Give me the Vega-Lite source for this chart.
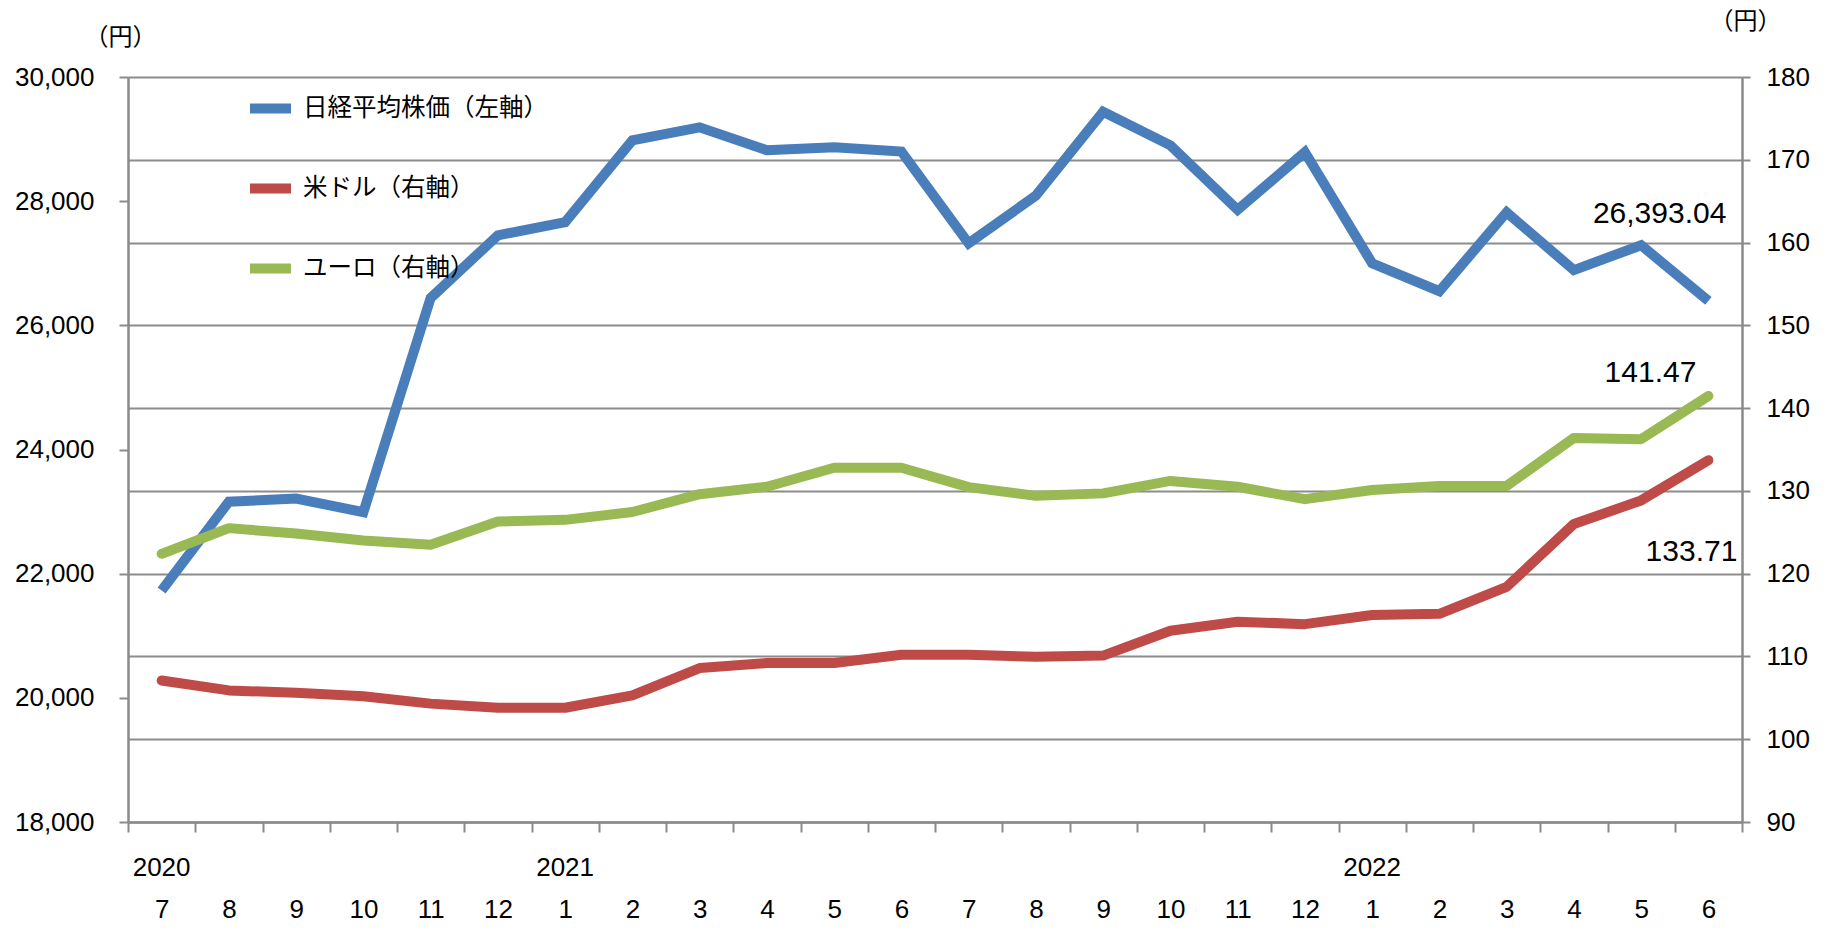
{
  "$schema": "https://vega.github.io/schema/vega-lite/v6.json",
  "width": 1614,
  "height": 745,
  "autosize": {"type": "none"},
  "padding": {"left": 128, "top": 77, "right": 89, "bottom": 108},
  "background": "white",
  "config": {
    "view": {"stroke": null},
    "axis": {
      "domainColor": "#8a8a8a",
      "domainWidth": 2.5,
      "tickColor": "#8a8a8a",
      "tickWidth": 2,
      "labelColor": "#000000",
      "labelFont": "Liberation Sans",
      "labelFontSize": 26,
      "titleColor": "#000000",
      "titleFont": "Noto Sans CJK JP",
      "titleFontSize": 24,
      "titleFontWeight": "normal"
    }
  },
  "data": {
    "values": [
      {"m": "2020/7", "s": "日経平均株価（左軸）", "v": 21730},
      {"m": "2020/8", "s": "日経平均株価（左軸）", "v": 23160},
      {"m": "2020/9", "s": "日経平均株価（左軸）", "v": 23210},
      {"m": "2020/10", "s": "日経平均株価（左軸）", "v": 22990},
      {"m": "2020/11", "s": "日経平均株価（左軸）", "v": 26440},
      {"m": "2020/12", "s": "日経平均株価（左軸）", "v": 27450},
      {"m": "2021/1", "s": "日経平均株価（左軸）", "v": 27660},
      {"m": "2021/2", "s": "日経平均株価（左軸）", "v": 28980},
      {"m": "2021/3", "s": "日経平均株価（左軸）", "v": 29190},
      {"m": "2021/4", "s": "日経平均株価（左軸）", "v": 28820},
      {"m": "2021/5", "s": "日経平均株価（左軸）", "v": 28870},
      {"m": "2021/6", "s": "日経平均株価（左軸）", "v": 28800},
      {"m": "2021/7", "s": "日経平均株価（左軸）", "v": 27320},
      {"m": "2021/8", "s": "日経平均株価（左軸）", "v": 28090},
      {"m": "2021/9", "s": "日経平均株価（左軸）", "v": 29440},
      {"m": "2021/10", "s": "日経平均株価（左軸）", "v": 28900},
      {"m": "2021/11", "s": "日経平均株価（左軸）", "v": 27860},
      {"m": "2021/12", "s": "日経平均株価（左軸）", "v": 28790},
      {"m": "2022/1", "s": "日経平均株価（左軸）", "v": 27000},
      {"m": "2022/2", "s": "日経平均株価（左軸）", "v": 26550},
      {"m": "2022/3", "s": "日経平均株価（左軸）", "v": 27820},
      {"m": "2022/4", "s": "日経平均株価（左軸）", "v": 26890},
      {"m": "2022/5", "s": "日経平均株価（左軸）", "v": 27290},
      {"m": "2022/6", "s": "日経平均株価（左軸）", "v": 26393.04},
      {"m": "2020/7", "s": "米ドル（右軸）", "v": 107.1},
      {"m": "2020/8", "s": "米ドル（右軸）", "v": 105.9},
      {"m": "2020/9", "s": "米ドル（右軸）", "v": 105.6},
      {"m": "2020/10", "s": "米ドル（右軸）", "v": 105.2},
      {"m": "2020/11", "s": "米ドル（右軸）", "v": 104.3},
      {"m": "2020/12", "s": "米ドル（右軸）", "v": 103.8},
      {"m": "2021/1", "s": "米ドル（右軸）", "v": 103.8},
      {"m": "2021/2", "s": "米ドル（右軸）", "v": 105.3},
      {"m": "2021/3", "s": "米ドル（右軸）", "v": 108.6},
      {"m": "2021/4", "s": "米ドル（右軸）", "v": 109.2},
      {"m": "2021/5", "s": "米ドル（右軸）", "v": 109.2},
      {"m": "2021/6", "s": "米ドル（右軸）", "v": 110.2},
      {"m": "2021/7", "s": "米ドル（右軸）", "v": 110.2},
      {"m": "2021/8", "s": "米ドル（右軸）", "v": 109.95},
      {"m": "2021/9", "s": "米ドル（右軸）", "v": 110.1},
      {"m": "2021/10", "s": "米ドル（右軸）", "v": 113.1},
      {"m": "2021/11", "s": "米ドル（右軸）", "v": 114.2},
      {"m": "2021/12", "s": "米ドル（右軸）", "v": 113.9},
      {"m": "2022/1", "s": "米ドル（右軸）", "v": 115.0},
      {"m": "2022/2", "s": "米ドル（右軸）", "v": 115.15},
      {"m": "2022/3", "s": "米ドル（右軸）", "v": 118.4},
      {"m": "2022/4", "s": "米ドル（右軸）", "v": 126.0},
      {"m": "2022/5", "s": "米ドル（右軸）", "v": 128.85},
      {"m": "2022/6", "s": "米ドル（右軸）", "v": 133.71},
      {"m": "2020/7", "s": "ユーロ（右軸）", "v": 122.4},
      {"m": "2020/8", "s": "ユーロ（右軸）", "v": 125.5},
      {"m": "2020/9", "s": "ユーロ（右軸）", "v": 124.85},
      {"m": "2020/10", "s": "ユーロ（右軸）", "v": 124.0},
      {"m": "2020/11", "s": "ユーロ（右軸）", "v": 123.5},
      {"m": "2020/12", "s": "ユーロ（右軸）", "v": 126.3},
      {"m": "2021/1", "s": "ユーロ（右軸）", "v": 126.5},
      {"m": "2021/2", "s": "ユーロ（右軸）", "v": 127.45},
      {"m": "2021/3", "s": "ユーロ（右軸）", "v": 129.6},
      {"m": "2021/4", "s": "ユーロ（右軸）", "v": 130.5},
      {"m": "2021/5", "s": "ユーロ（右軸）", "v": 132.8},
      {"m": "2021/6", "s": "ユーロ（右軸）", "v": 132.8},
      {"m": "2021/7", "s": "ユーロ（右軸）", "v": 130.45},
      {"m": "2021/8", "s": "ユーロ（右軸）", "v": 129.4},
      {"m": "2021/9", "s": "ユーロ（右軸）", "v": 129.7},
      {"m": "2021/10", "s": "ユーロ（右軸）", "v": 131.2},
      {"m": "2021/11", "s": "ユーロ（右軸）", "v": 130.5},
      {"m": "2021/12", "s": "ユーロ（右軸）", "v": 129.0},
      {"m": "2022/1", "s": "ユーロ（右軸）", "v": 130.1},
      {"m": "2022/2", "s": "ユーロ（右軸）", "v": 130.6},
      {"m": "2022/3", "s": "ユーロ（右軸）", "v": 130.6},
      {"m": "2022/4", "s": "ユーロ（右軸）", "v": 136.4},
      {"m": "2022/5", "s": "ユーロ（右軸）", "v": 136.25},
      {"m": "2022/6", "s": "ユーロ（右軸）", "v": 141.47}
    ]
  },
  "layer": [
    {
      "encoding": {
        "x": {
          "field": "m",
          "type": "ordinal",
          "sort": null,
          "bandPosition": 0.5,
          "scale": {"type": "band", "paddingInner": 0, "paddingOuter": 0},
          "axis": {
            "title": null,
            "orient": "bottom",
            "tickBand": "extent",
            "tickSize": 10,
            "labelAngle": 0,
            "labelOverlap": false,
            "labelBound": false,
            "labelPadding": 64,
            "labelExpr": "split(datum.value, '/')[1]"
          }
        }
      },
      "layer": [
        {
          "transform": [{"filter": "datum.s == '日経平均株価（左軸）'"}],
          "mark": {"type": "line", "strokeWidth": 10, "strokeCap": "butt", "strokeJoin": "miter"},
          "encoding": {
            "y": {
              "field": "v",
              "type": "quantitative",
              "scale": {"domain": [18000, 30000], "nice": false, "zero": false},
              "axis": {
                "orient": "left",
                "values": [18000, 20000, 22000, 24000, 26000, 28000, 30000],
                "format": ",d",
                "grid": false,
                "tickSize": 9,
                "labelPadding": 25,
                "title": "（円）",
                "titleAngle": 0,
                "titleAlign": "center",
                "titleBaseline": "middle",
                "titleX": -8,
                "titleY": -40
              }
            },
            "color": {
              "field": "s",
              "type": "nominal",
              "scale": {
                "domain": ["日経平均株価（左軸）", "米ドル（右軸）", "ユーロ（右軸）"],
                "range": ["#4A7EBB", "#BE4B48", "#98B954"]
              },
              "legend": {
                "orient": "none",
                "legendX": 117,
                "legendY": 6,
                "title": null,
                "padding": 0,
                "symbolType": "stroke",
                "symbolSize": 1681,
                "symbolStrokeWidth": 10,
                "labelFont": "Noto Sans CJK JP",
                "labelFontSize": 24.5,
                "labelColor": "#000000",
                "labelOffset": 7,
                "labelLimit": 400,
                "rowPadding": 34
              }
            }
          }
        },
        {
          "transform": [{"filter": "datum.s == '日経平均株価（左軸）' && datum.m == '2022/6'"}],
          "mark": {"type": "text", "align": "right", "baseline": "middle", "dx": 18, "dy": -87, "font": "Liberation Sans", "fontSize": 30, "fill": "#000000"},
          "encoding": {
            "y": {"field": "v", "type": "quantitative"},
            "text": {"field": "v", "type": "quantitative", "format": ",.2f"}
          }
        }
      ]
    },
    {
      "encoding": {
        "x": {
          "field": "m",
          "type": "ordinal",
          "sort": null,
          "bandPosition": 0.5,
          "scale": {"type": "band", "paddingInner": 0, "paddingOuter": 0},
          "axis": {
            "title": null,
            "orient": "bottom",
            "domain": false,
            "ticks": true,
            "tickSize": 10,
            "tickOpacity": 0,
            "labelAngle": 0,
            "labelOverlap": false,
            "labelBound": false,
            "labelPadding": 22,
            "labelExpr": "(datum.value == '2020/7' || (length(datum.value) == 6 && indexof(datum.value, '/1') == 4)) ? split(datum.value, '/')[0] : ''"
          }
        }
      },
      "layer": [
        {
          "transform": [{"filter": "datum.s != '日経平均株価（左軸）'"}],
          "mark": {"type": "line", "strokeWidth": 10, "strokeCap": "round", "strokeJoin": "round"},
          "encoding": {
            "y": {
              "field": "v",
              "type": "quantitative",
              "scale": {"domain": [90, 180], "nice": false, "zero": false},
              "axis": {
                "orient": "right",
                "values": [90, 100, 110, 120, 130, 140, 150, 160, 170, 180],
                "grid": true,
                "gridColor": "#8c8c8c",
                "gridWidth": 2,
                "tickSize": 8,
                "labelPadding": 16,
                "title": "（円）",
                "titleAngle": 0,
                "titleAlign": "center",
                "titleBaseline": "middle",
                "titleX": 3,
                "titleY": -56
              }
            },
            "color": {
              "field": "s",
              "type": "nominal",
              "scale": {
                "domain": ["日経平均株価（左軸）", "米ドル（右軸）", "ユーロ（右軸）"],
                "range": ["#4A7EBB", "#BE4B48", "#98B954"]
              }
            }
          }
        },
        {
          "transform": [{"filter": "datum.s == 'ユーロ（右軸）' && datum.m == '2022/6'"}],
          "mark": {"type": "text", "align": "right", "baseline": "middle", "dx": -12, "dy": -23, "font": "Liberation Sans", "fontSize": 30, "fill": "#000000"},
          "encoding": {
            "y": {"field": "v", "type": "quantitative"},
            "text": {"field": "v", "type": "quantitative", "format": ".2f"}
          }
        },
        {
          "transform": [{"filter": "datum.s == '米ドル（右軸）' && datum.m == '2022/6'"}],
          "mark": {"type": "text", "align": "right", "baseline": "middle", "dx": 29, "dy": 92, "font": "Liberation Sans", "fontSize": 30, "fill": "#000000"},
          "encoding": {
            "y": {"field": "v", "type": "quantitative"},
            "text": {"field": "v", "type": "quantitative", "format": ".2f"}
          }
        }
      ]
    }
  ],
  "resolve": {"scale": {"y": "independent"}, "axis": {"x": "independent"}}
}
